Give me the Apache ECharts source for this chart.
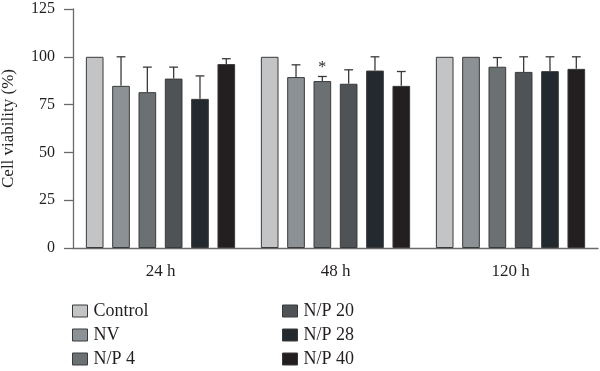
<!DOCTYPE html>
<html>
<head>
<meta charset="utf-8">
<script src="https://cdn.jsdelivr.net/npm/echarts@6/dist/echarts.min.js"></script>
<style>html,body{margin:0;padding:0;background:#fff}#c{width:600px;height:371px}</style>
</head>
<body>
<div id="c"></div>
<script>
const categories = ['24 h', '48 h', '120 h'];
const seriesNames = ['Control', 'NV', 'N/P 4', 'N/P 20', 'N/P 28', 'N/P 40'];
const yTicks = [0, 25, 50, 75, 100, 125];

const controlVals = [100, 100, 100];
const controlErr  = [0, 0, 0];
const nvVals      = [84.8, 89.4, 100];
const nvErr       = [15.2, 6.4, 0];
const np4Vals     = [81.5, 87.3, 94.8];
const np4Err      = [13.1, 2.4, 4.8];
const np20Vals    = [88.6, 85.9, 92.1];
const np20Err     = [6.0, 7.3, 7.9];
const np28Vals    = [78.0, 92.8, 92.5];
const np28Err     = [12.0, 7.2, 7.5];
const np40Vals    = [96.2, 84.8, 93.7];
const np40Err     = [2.8, 7.5, 6.3];
// significance marks: [seriesIndex, categoryIndex]
const sigMarks = [[2, 1]];

const values = [controlVals, nvVals, np4Vals, np20Vals, np28Vals, np40Vals];
const errs = [controlErr, nvErr, np4Err, np20Err, np28Err, np40Err];
const colors = ['#c3c4c6', '#8c9195', '#6b7173', '#4f5355', '#232a2f', '#231f20'];

const CAT_GAP = 0.147, BAR_GAP = 0.49;
const FONT = '"Liberation Serif", "Times New Roman", serif';
const N = seriesNames.length;

const barSeries = seriesNames.map((name, i) => ({
  name, type: 'bar',
  data: values[i],
  barCategoryGap: (CAT_GAP * 100) + '%',
  barGap: (BAR_GAP * 100) + '%',
  itemStyle: { color: colors[i], borderColor: '#3a3a3a', borderWidth: 1 },
  emphasis: { disabled: true },
  z: 2
}));

const errSeries = seriesNames.map((name, i) => ({
  type: 'custom',
  silent: true,
  z: 3,
  data: categories.map((c, k) => [k, values[i][k], errs[i][k],
    sigMarks.some(m => m[0] === i && m[1] === k) ? 1 : 0]),
  renderItem: function (params, api) {
    const k = api.value(0), v = api.value(1), e = api.value(2), sig = api.value(3);
    const band = api.size([1, 0])[0];
    const bw = band * (1 - CAT_GAP) / (N + (N - 1) * BAR_GAP);
    const off = (i - (N - 1) / 2) * bw * (1 + BAR_GAP);
    const base = api.coord([k, v]);
    const top = api.coord([k, v + e]);
    const x = base[0] + off;
    const children = [];
    if (e > 0) {
      children.push({ type: 'line', shape: { x1: x, y1: base[1], x2: x, y2: top[1] },
        style: { stroke: '#3a3a3a', lineWidth: 1.3 } });
      children.push({ type: 'line', shape: { x1: x - bw * 0.25, y1: top[1], x2: x + bw * 0.25, y2: top[1] },
        style: { stroke: '#3a3a3a', lineWidth: 1.3 } });
    }
    if (sig) {
      children.push({ type: 'text', style: { text: '*', x: x, y: top[1] - 1, align: 'center',
        verticalAlign: 'bottom', font: '16px ' + FONT, fill: '#231f20' } });
    }
    return { type: 'group', children };
  }
}));

const legendBase = {
  orient: 'vertical', top: 302, padding: 0, icon: 'rect',
  itemWidth: 15, itemHeight: 12, itemGap: 6, selectedMode: false,
  itemStyle: { borderColor: '#3a3a3a', borderWidth: 1 },
  textStyle: { fontFamily: FONT, fontSize: 18, lineHeight: 18, color: '#231f20', padding: [0, 0, 0, 1] }
};

const chart = echarts.init(document.getElementById('c'), null, { renderer: 'canvas' });
chart.setOption({
  animation: false,
  backgroundColor: '#fff',
  grid: { left: 73, right: 2, top: 9, bottom: 123, containLabel: false, outerBoundsMode: 'none' },
  legend: [
    Object.assign({}, legendBase, { data: seriesNames.slice(0, 3), left: 72 }),
    Object.assign({}, legendBase, { data: seriesNames.slice(3), left: 282 })
  ],
  xAxis: {
    type: 'category', data: categories,
    axisLine: { lineStyle: { color: '#6a6a6a', width: 1.3 } },
    axisTick: { alignWithLabel: true, length: 9, lineStyle: { color: '#6a6a6a', width: 1.3 } },
    axisLabel: { fontFamily: FONT, fontSize: 17, color: '#231f20', margin: 15 }
  },
  yAxis: {
    type: 'value', min: yTicks[0], max: yTicks[yTicks.length - 1], interval: 25,
    name: 'Cell viability (%)', nameLocation: 'middle', nameGap: 56,
    nameTextStyle: { fontFamily: FONT, fontSize: 17, color: '#231f20' },
    axisLine: { show: true, lineStyle: { color: '#6a6a6a', width: 1.3 } },
    axisTick: { show: true, length: 9, lineStyle: { color: '#6a6a6a', width: 1.3 } },
    splitLine: { show: false },
    axisLabel: { fontFamily: FONT, fontSize: 16, color: '#231f20', margin: 18 }
  },
  series: barSeries.concat(errSeries)
});
</script>
</body>
</html>
